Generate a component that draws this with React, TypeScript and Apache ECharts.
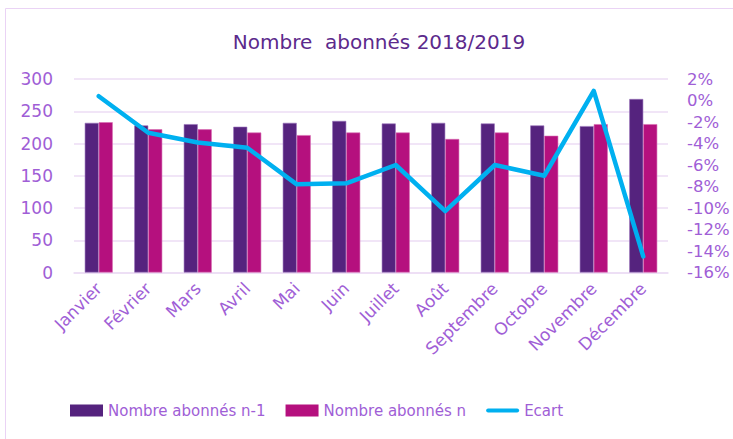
import React, { useEffect, useRef } from "react";
import * as echarts from "echarts";

const months = ["Janvier", "Février", "Mars", "Avril", "Mai", "Juin", "Juillet", "Août", "Septembre", "Octobre", "Novembre", "Décembre"];
const abonnesPrev = [232, 228, 230, 226, 232, 235, 231, 232, 231, 228, 227, 269];
const abonnesCurr = [233, 222, 222, 217, 213, 217, 217, 207, 217, 212, 230, 230];
const ecart = [0.4, -3.0, -3.9, -4.4, -7.8, -7.7, -6.0, -10.3, -6.0, -7.0, 0.9, -14.5];

const FONT = "DejaVu Sans";
const LABEL = "#A05ED6";
const TITLE = "#5C2A8C";
const GRID = "#ECDDF5";
const LINE_ICON = "path://M0 0 M33 12 M2 4 L31 4 A2 2 0 0 1 31 8 L2 8 A2 2 0 0 1 2 4 Z";

export default function App() {
  const ref = useRef<HTMLDivElement>(null);
  useEffect(() => {
    if (!ref.current) return;
    const chart = echarts.init(ref.current, undefined, { renderer: "svg" });
    chart.setOption({
      animation: false,
      backgroundColor: "#ffffff",
      textStyle: { fontFamily: FONT },
      title: {
        text: "Nombre  abonnés 2018/2019",
        left: 374,
        textAlign: "center",
        top: 27,
        textStyle: { fontFamily: FONT, fontSize: 20, fontWeight: "normal", color: TITLE },
      },
      graphic: [
        {
          type: "rect",
          shape: { x: 5.5, y: 8.5, width: 800, height: 500 },
          style: { fill: "none", stroke: "#EAD3F5", lineWidth: 1 },
          silent: true,
        },
      ],
      legend: {
        left: 65,
        top: 398,
        itemWidth: 33,
        itemHeight: 12,
        itemGap: 20,
        itemStyle: { borderWidth: 0 },
        textStyle: { fontFamily: FONT, fontSize: 15, color: LABEL },
        data: [
          { name: "Nombre abonnés n-1", icon: "rect" },
          { name: "Nombre abonnés n", icon: "rect" },
          { name: "Ecart", icon: LINE_ICON, itemStyle: { color: "#00B0F0", borderWidth: 0 } },
        ],
      },
      grid: { left: 74, right: 65, top: 79, bottom: 166.5, containLabel: false, outerBoundsMode: "none" },
      xAxis: {
        type: "category",
        data: months,
        axisTick: { show: false },
        axisLine: { show: true, lineStyle: { color: GRID, width: 1.5 } },
        axisLabel: { rotate: 45, interval: 0, margin: 13, fontFamily: FONT, fontSize: 17, color: LABEL },
      },
      yAxis: [
        {
          type: "value",
          min: 0,
          max: 300,
          interval: 50,
          axisLine: { show: false },
          axisTick: { show: false },
          splitLine: { lineStyle: { color: GRID, width: 1.5 } },
          axisLabel: { margin: 21, fontFamily: FONT, fontSize: 17, color: LABEL },
        },
        {
          type: "value",
          min: -16,
          max: 2,
          interval: 2,
          axisLine: { show: false },
          axisTick: { show: false },
          splitLine: { show: false },
          axisLabel: { margin: 19, fontFamily: FONT, fontSize: 16.5, color: LABEL, formatter: (v: number) => `${v}%` },
        },
      ],
      series: [
        {
          name: "Nombre abonnés n-1",
          type: "bar",
          data: abonnesPrev,
          barWidth: 14,
          barGap: "0%",
          itemStyle: { color: "#55237E", borderColor: "#9A74BC", borderWidth: 0.6 },
        },
        {
          name: "Nombre abonnés n",
          type: "bar",
          data: abonnesCurr,
          barWidth: 14,
          barGap: "0%",
          itemStyle: { color: "#B5107E", borderColor: "#D86DB4", borderWidth: 0.6 },
        },
        {
          name: "Ecart",
          type: "line",
          yAxisIndex: 1,
          data: ecart,
          symbol: "none",
          lineStyle: { color: "#00B0F0", width: 4.5, cap: "round", join: "round" },
          itemStyle: { color: "#00B0F0" },
        },
      ],
    });
    return () => chart.dispose();
  }, []);
  return <div ref={ref} style={{ width: 733, height: 439, position: "absolute", left: 0, top: 0 }} />;
}
